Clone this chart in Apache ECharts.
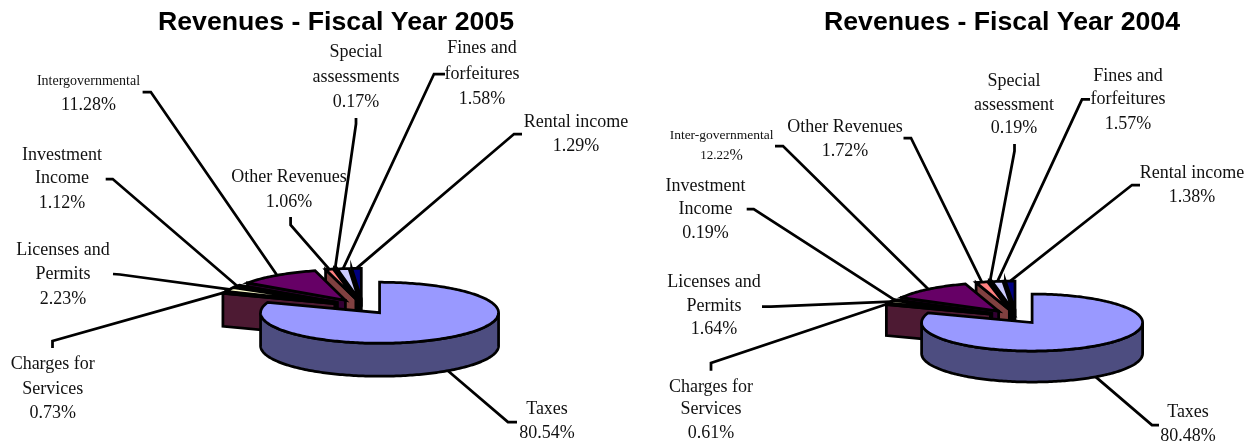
<!DOCTYPE html>
<html>
<head>
<meta charset="utf-8">
<title>Revenues by fiscal year</title>
<style>html,body{margin:0;padding:0;background:#fff}#chart{width:1252px;height:445px}</style>
<script src="https://cdn.jsdelivr.net/npm/echarts@6/dist/echarts.min.js"></script>
</head>
<body>
<div id="chart"></div>
<script>
// Revenue shares, listed clockwise from twelve o'clock.
const titleFy2005 = 'Revenues - Fiscal Year 2005';
const titleFy2004 = 'Revenues - Fiscal Year 2004';
const categoriesFy2005 = ['Taxes', 'Charges for\nServices', 'Licenses and\nPermits', 'Investment\nIncome', 'Intergovernmental', 'Other Revenues', 'Special\nassessments', 'Fines and\nforfeitures', 'Rental income'];
const valuesFy2005 = [80.54, 0.73, 2.23, 1.12, 11.28, 1.06, 0.17, 1.58, 1.29];
const categoriesFy2004 = ['Taxes', 'Charges for\nServices', 'Licenses and\nPermits', 'Investment\nIncome', 'Inter-governmental', 'Other Revenues', 'Special\nassessment', 'Fines and\nforfeitures', 'Rental income'];
const valuesFy2004 = [80.48, 0.61, 1.64, 0.19, 12.22, 1.72, 0.19, 1.57, 1.38];

// Top-face colours and the darker side-wall shades for each slice.
const topColors = ['#9999ff', '#993366', '#ffffcc', '#ccffff', '#660066', '#ff8080', '#0066cc', '#ccccff', '#000080'];
const wallColors = ['#4d4d80', '#4d1a33', '#808066', '#668080', '#330033', '#804040', '#003366', '#666680', '#000040'];

// Pie placement: centre, radii of the tilted ellipse, wall depth, explosion.
const pieFy2005 = { cx: 362.5, cy: 306.5, rx: 119, ry: 30.5, depth: 33, explode: 0.25 };
const pieFy2004 = { cx: 1016.2, cy: 316.7, rx: 110.5, ry: 28.5, depth: 31, explode: 0.25 };

// For each slice: label centre x, line centre ys, optional sizes, leader start and elbow.
const labelsFy2005 = [
  { x: 547, ys: [409, 433], from: [517, 422], elbow: [508, 422] },
  { x: 52.7, ys: [364, 389, 413], from: [52.5, 348], elbow: [52.5, 341] },
  { x: 63, ys: [250, 274, 299], from: [113, 274], elbow: [120, 274.5] },
  { x: 62, ys: [155, 178, 203], from: [105.7, 179], elbow: [112.7, 179] },
  { x: 88.5, ys: [81, 105], nameSize: 14, from: [142.6, 92], elbow: [150.8, 92] },
  { x: 289, ys: [177, 202], from: [290.6, 217], elbow: [290.6, 225] },
  { x: 356, ys: [52, 77, 102], from: [356, 118], elbow: [356, 124] },
  { x: 482, ys: [48, 74, 99], from: [445, 74], elbow: [434, 74] },
  { x: 576, ys: [122, 146], from: [522, 134], elbow: [514, 134] }
];
const labelsFy2004 = [
  { x: 1188, ys: [412, 436], from: [1159, 425], elbow: [1152, 425] },
  { x: 711, ys: [387, 409, 433], from: [711, 370.7], elbow: [711, 363] },
  { x: 714, ys: [282, 306, 329], from: [762, 306.7], elbow: [771, 306.7] },
  { x: 705.5, ys: [186, 209, 233], from: [746.7, 209], elbow: [753.7, 209] },
  { x: 721.6, ys: [135, 156], nameSize: 13.5, digitSize: 13, from: [775, 146], elbow: [783, 146] },
  { x: 845, ys: [127, 151], from: [903.5, 138], elbow: [911, 138] },
  { x: 1014, ys: [81, 105, 128], from: [1014.5, 144], elbow: [1014.5, 151] },
  { x: 1128, ys: [76, 99, 124], from: [1090, 99.3], elbow: [1082, 99.3] },
  { x: 1192, ys: [173, 197], from: [1140, 185], elbow: [1132, 185] }
];

const TAU = Math.PI * 2;
const SERIF = 'Liberation Serif';
const outline = { stroke: '#000', lineWidth: 2.75, lineJoin: 'miter' };

// Position on the tilted ellipse; angle runs clockwise from twelve o'clock.
function rimPoint(apex, pie, a, drop) {
  return [apex[0] + pie.rx * Math.sin(a), apex[1] - pie.ry * Math.cos(a) + (drop || 0)];
}
function arcPoints(apex, pie, a0, a1, drop) {
  const n = Math.max(2, Math.ceil(Math.abs(a1 - a0) / 0.02));
  const pts = [];
  for (let i = 0; i <= n; i++) pts.push(rimPoint(apex, pie, a0 + (a1 - a0) * i / n, drop));
  return pts;
}
function polygon(points, fill, z2) {
  return { type: 'polygon', shape: { points }, style: Object.assign({ fill }, outline), z2, silent: true };
}
function polyline(points, z2) {
  return { type: 'polyline', shape: { points }, style: { fill: 'none', stroke: '#000', lineWidth: 2.75, lineJoin: 'miter' }, z2, silent: true };
}
function text(str, x, y, size, z2, rich) {
  return {
    type: 'text', z2, silent: true,
    style: { text: str, x, y, fill: '#111', align: 'center', verticalAlign: 'middle', fontFamily: SERIF, fontSize: size, rich }
  };
}

// One exploded 3D slice with its leader line and label.
function sliceRenderer(values, categories, labels, pie) {
  const total = values.reduce((s, v) => s + v, 0);
  const before = [];
  values.reduce((s, v, i) => (before[i] = s, s + v), 0);
  return function (params, api) {
    const i = params.dataIndex;
    const value = api.value(0);
    const a0 = before[i] / total * TAU;
    const a1 = (before[i] + value) / total * TAU;
    const mid = (a0 + a1) / 2;
    const apex = [
      pie.cx + pie.explode * pie.rx * Math.sin(mid),
      pie.cy - pie.explode * pie.ry * Math.cos(mid)
    ];
    const base = (values.length - i) * 10;
    const children = [];

    // Walls facing the viewer, painted before the top face.
    if (Math.sin(a0) < -1e-6) {
      const rim = rimPoint(apex, pie, a0);
      children.push(polygon([apex, rim, [rim[0], rim[1] + pie.depth], [apex[0], apex[1] + pie.depth]], wallColors[i], base + 1));
    }
    const w0 = Math.max(a0, Math.PI / 2);
    const w1 = Math.min(a1, Math.PI * 1.5);
    if (w1 > w0) {
      const upper = arcPoints(apex, pie, w0, w1, 0);
      const lower = arcPoints(apex, pie, w1, w0, pie.depth);
      children.push(polygon(upper.concat(lower), wallColors[i], base + 2));
    }
    children.push(polygon([apex].concat(arcPoints(apex, pie, a0, a1, 0)), topColors[i], base + 3));

    // Leader from the label to the middle of the slice's visible rim.
    const onFront = mid > Math.PI / 2 && mid < Math.PI * 1.5;
    const end = rimPoint(apex, pie, mid, onFront ? pie.depth : 0);
    const spec = labels[i];
    children.push(polyline([spec.from, spec.elbow, end], 200));

    const lines = categories[i].split('\n');
    lines.forEach((line, k) => {
      children.push(text(line, spec.x, spec.ys[k], spec.nameSize || 18, 201));
    });
    const y = spec.ys[lines.length];
    const number = value.toFixed(2);
    if (spec.digitSize) {
      // Smaller digits with a full-size percent sign.
      children.push(text('{d|' + number + '}{p|%}', spec.x, y, 18, 201, {
        d: { fontFamily: SERIF, fontSize: spec.digitSize, fill: '#111' },
        p: { fontFamily: SERIF, fontSize: 16, fill: '#111' }
      }));
    } else {
      children.push(text(number + '%', spec.x, y, 18, 201));
    }
    return { type: 'group', children };
  };
}

function pieSeries(name, values, categories, labels, pie) {
  return {
    type: 'custom',
    name,
    coordinateSystem: 'none',
    renderItem: sliceRenderer(values, categories, labels, pie),
    data: values.map((v, i) => ({ name: categories[i], value: [v] })),
    animation: false,
    silent: true
  };
}

const titleStyle = { fontFamily: 'Liberation Sans', fontWeight: 'bold', fontSize: 26.7, color: '#000' };
const chart = echarts.init(document.getElementById('chart'));
chart.setOption({
  backgroundColor: '#ffffff',
  animation: false,
  title: [
    { text: titleFy2005, left: 331, top: 4, textAlign: 'center', textStyle: titleStyle },
    { text: titleFy2004, left: 997, top: 4, textAlign: 'center', textStyle: titleStyle }
  ],
  series: [
    pieSeries('Fiscal Year 2005', valuesFy2005, categoriesFy2005, labelsFy2005, pieFy2005),
    pieSeries('Fiscal Year 2004', valuesFy2004, categoriesFy2004, labelsFy2004, pieFy2004)
  ]
});
</script>
</body>
</html>
